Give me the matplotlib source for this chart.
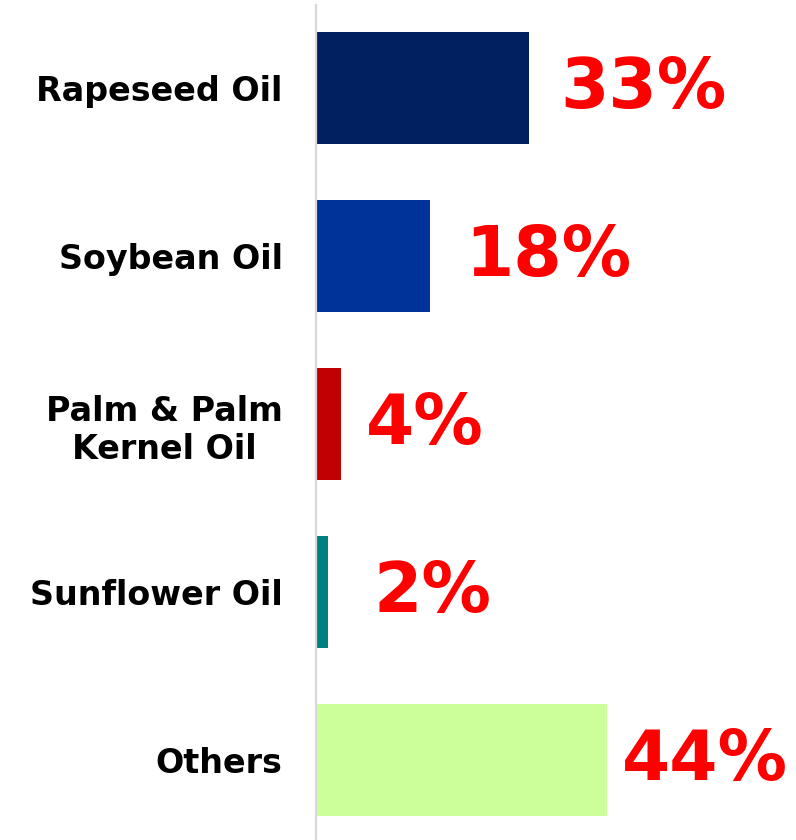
import matplotlib.pyplot as plt

oils = ["Rapeseed Oil", "Soybean Oil", "Palm & Palm\nKernel Oil", "Sunflower Oil", "Others"]
shares = [32.7, 17.6, 3.85, 1.85, 44.8]
labels = ["33%", "18%", "4%", "2%", "44%"]
colors = ["#002060", "#003399", "#C00000", "#008080", "#CCFF99"]
# gap between bar end and its label, in pixels
gaps = [32, 35, 25, 45, 15]

plt.rcParams["font.family"] = ["DejaVu Sans"]

fig = plt.figure(figsize=(7.96, 8.4), dpi=100)
ax = fig.add_axes([316 / 796, 0, 1 - 316 / 796, 835 / 840])

y = list(range(len(oils)))
ax.barh(y, shares, height=0.667, color=colors)

for i in y:
    ax.annotate(labels[i], (shares[i], i), xytext=(gaps[i] * 0.72, 0),
                textcoords="offset points", va="center", ha="left",
                fontsize=50, fontweight="bold", color="#FF0000",
                annotation_clip=False)

ax.set_xlim(0, 480 / 6.5)
ax.set_ylim(4.476, -0.497)
ax.set_yticks(y)
ax.set_yticklabels(oils, fontsize=24, fontweight="bold", linespacing=1.22,
                   multialignment="center")
ax.tick_params(axis="y", length=0, pad=24)
ax.set_xticks([])
for s in ["top", "right", "bottom"]:
    ax.spines[s].set_visible(False)
ax.spines["left"].set_color("#D9D9D9")
ax.spines["left"].set_linewidth(1.6)

fig.savefig("out.png", dpi=100)
